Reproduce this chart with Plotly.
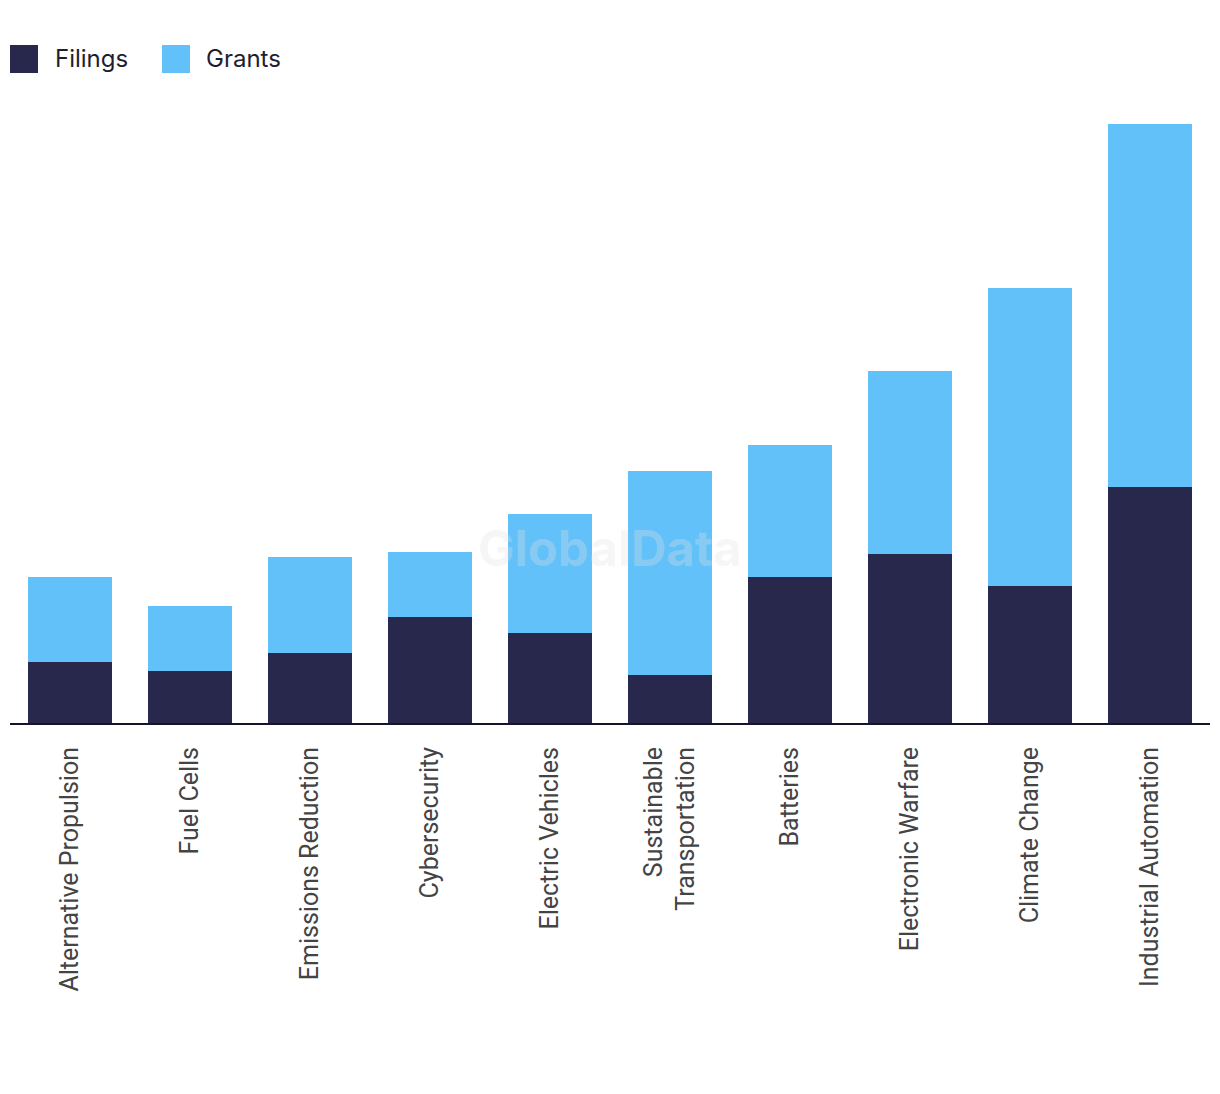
import plotly.graph_objects as go

categories = ["Alternative Propulsion", "Fuel Cells", "Emissions Reduction", "Cybersecurity",
              "Electric Vehicles", "Sustainable<br>Transportation", "Batteries",
              "Electronic Warfare", "Climate Change", "Industrial Automation"]
filings = [61, 52, 70, 106, 90, 48, 146, 169, 137, 236]
grants = [85, 65, 96, 65, 119, 204, 132, 183, 298, 363]
series_names = ["Filings", "Grants"]
series_colors = ["#27284C", "#62C1F9"]

W, H = 1220, 1094
OFF = 8  # page body offset
ML, MR, MT, MB = 10 - OFF, 10 + OFF, 100 - OFF, 371 + OFF
plot_w = W - ML - MR
plot_h = H - MT - MB
y_max = 623

fig = go.Figure()
fig.add_trace(go.Bar(x=categories, y=filings, name=series_names[0],
                     marker=dict(color=series_colors[0], line=dict(width=0))))
fig.add_trace(go.Bar(x=categories, y=grants, name=series_names[1],
                     marker=dict(color=series_colors[1], line=dict(width=0))))

# helpers converting target screen pixels to paper coords
def px_x(p):
    return (p - OFF - ML) / plot_w

def px_y(p):
    return (H - MB - (p - OFF)) / plot_h

shapes = []
annotations = []
legend_pos = [(10, 55), (162, 206)]
for (sx, tx), name, col in zip(legend_pos, series_names, series_colors):
    shapes.append(dict(type="rect", xref="paper", yref="paper",
                       x0=px_x(sx), x1=px_x(sx + 28), y0=px_y(73), y1=px_y(45),
                       fillcolor=col, line=dict(width=0)))
    annotations.append(dict(text=name, xref="paper", yref="paper", x=px_x(tx - 2), y=px_y(58),
                            xanchor="left", yanchor="middle", showarrow=False,
                            font=dict(size=24, color="#1E1E30", family="Inter")))

annotations.append(dict(text="<b>GlobalData</b>", xref="paper", yref="paper",
                        x=px_x(610), y=px_y(548), xanchor="center", yanchor="middle",
                        showarrow=False,
                        font=dict(size=49, color="rgba(225,225,225,0.3)", family="Inter")))

fig.update_layout(
    width=W, height=H,
    margin=dict(l=ML, r=MR, t=MT, b=MB),
    barmode="stack",
    bargap=0.3,
    plot_bgcolor="white", paper_bgcolor="white",
    showlegend=False,
    shapes=shapes,
    annotations=annotations,
    font=dict(family="Roboto", color="#444444"),
)
fig.update_xaxes(tickangle=-90, tickfont=dict(size=25, color="#444444", family="Roboto"),
                 showline=True, linecolor="#14142A", linewidth=2, ticks="",
                 ticklabelstandoff=12, showgrid=False)
fig.update_yaxes(range=[0, y_max], visible=False, showgrid=False)

fig.write_html("out.html")
